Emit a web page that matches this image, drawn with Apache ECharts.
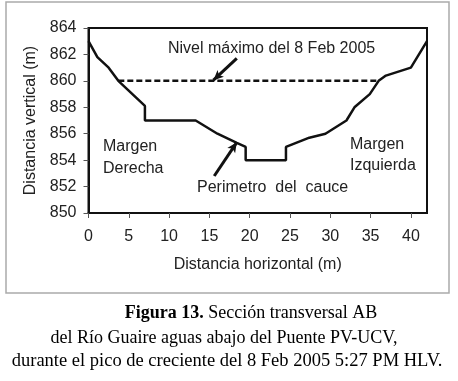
<!DOCTYPE html>
<html>
<head>
<meta charset="utf-8">
<script src="https://cdn.jsdelivr.net/npm/echarts@6/dist/echarts.min.js"></script>
<style>
  html, body { margin: 0; padding: 0; background: #fff; }
  #chart { width: 458px; height: 381px; }
</style>
</head>
<body>
<div id="chart"></div>
<script>
// perfil del cauce (distancia horizontal, cota)
const profileX = [0, 1.1, 2.5, 3.7, 7, 7, 13.3, 16, 18.4, 19.5, 19.5, 24.5, 24.5, 27.4, 29.4, 32, 33, 34.9, 36, 36.9, 40, 42];
const profileY = [863, 861.8, 861, 860, 858.1, 857, 857, 856, 855.3, 855, 854, 854, 855, 855.7, 856, 857, 858, 859, 860, 860.4, 861, 863];
// nivel maximo
const levelX = [3.7, 36];
const levelY = [860, 860];
const xTicks = [0, 5, 10, 15, 20, 25, 30, 35, 40];
// flechas de anotacion [inicio, punta]
const arrowLevel = [[18.4, 861.7], [15.5, 860.05]];
const arrowCauce = [[15.6, 852.8], [18.4, 855.35]];

const FONT = "'Liberation Sans', Arial, sans-serif";
const SERIF = "'Liberation Serif', 'Times New Roman', serif";
const TXT = '#222';

const chart = echarts.init(document.getElementById('chart'));

const option = {
  backgroundColor: '#fff',
  animation: false,
  grid: {
    left: 88.5, right: 31, top: 28, bottom: 168,
    show: true, borderColor: '#111', borderWidth: 2
  },
  xAxis: {
    type: 'value', min: 0, max: 42, interval: 5,
    name: 'Distancia horizontal (m)', nameLocation: 'middle', nameGap: 44,
    nameTextStyle: { fontFamily: FONT, fontSize: 16, color: TXT },
    axisLine: { lineStyle: { color: '#111', width: 2 } },
    axisTick: { show: true, length: 5, customValues: xTicks, lineStyle: { color: '#555' } },
    axisLabel: { customValues: xTicks, fontFamily: FONT, fontSize: 16, color: TXT, margin: 16 },
    splitLine: { show: false }
  },
  yAxis: {
    type: 'value', min: 850, max: 864, interval: 2,
    name: 'Distancia vertical (m)', nameLocation: 'middle', nameGap: 48, nameRotate: 90,
    nameTextStyle: { fontFamily: FONT, fontSize: 16, color: TXT },
    axisLine: { show: true, lineStyle: { color: '#111', width: 2 } },
    axisTick: { show: true, length: 5, lineStyle: { color: '#555' } },
    axisLabel: { fontFamily: FONT, fontSize: 16, color: TXT, margin: 12 },
    splitLine: { show: false }
  },
  series: [
    {
      name: 'Perfil',
      type: 'line',
      data: profileX.map((x, i) => [x, profileY[i]]),
      symbol: 'none',
      lineStyle: { color: '#111', width: 2.5 },
      markLine: {
        silent: true,
        symbol: ['none', 'arrow'],
        symbolSize: [7, 10],
        lineStyle: { color: '#111', width: 3, type: 'solid' },
        label: { show: false },
        data: [
          [{ coord: arrowLevel[0] }, { coord: arrowLevel[1] }],
          [{ coord: arrowCauce[0] }, { coord: arrowCauce[1] }]
        ]
      }
    },
    {
      name: 'Nivel',
      type: 'line',
      data: levelX.map((x, i) => [x, levelY[i]]),
      symbol: 'none',
      lineStyle: { color: '#111', width: 2.5, type: [6, 3] }
    }
  ],
  graphic: [
    { type: 'rect', shape: { x: 6, y: 2, width: 443, height: 291 }, style: { fill: 'none', stroke: '#aaa', lineWidth: 1.5 }, z: -1 },
    { type: 'text', x: 168, y: 49, style: { text: 'Nivel máximo del 8 Feb 2005', font: '16px ' + FONT, fill: TXT, verticalAlign: 'middle' } },
    { type: 'text', x: 103, y: 157.5, style: { text: 'Margen\nDerecha', font: '16px ' + FONT, fill: TXT, lineHeight: 21.5, verticalAlign: 'middle' } },
    { type: 'text', x: 350, y: 155.5, style: { text: 'Margen\nIzquierda', font: '16px ' + FONT, fill: TXT, lineHeight: 21, verticalAlign: 'middle' } },
    { type: 'text', x: 197, y: 188, style: { text: 'Perimetro  del  cauce', font: '16px ' + FONT, fill: TXT, verticalAlign: 'middle' } },
    { type: 'text', x: 251, y: 313, style: { text: '{b|Figura 13.} Sección transversal AB', rich: { b: { font: 'bold 18px ' + SERIF, fill: '#000' } }, font: '18px ' + SERIF, fill: '#000', align: 'center', verticalAlign: 'middle' } },
    { type: 'text', x: 224, y: 338, style: { text: 'del Río Guaire aguas abajo del Puente PV-UCV,', font: '18px ' + SERIF, fill: '#000', align: 'center', verticalAlign: 'middle' } },
    { type: 'text', x: 227, y: 361.5, style: { text: 'durante el pico de creciente del 8 Feb 2005 5:27 PM HLV.', font: '18.5px ' + SERIF, fill: '#000', align: 'center', verticalAlign: 'middle' } }
  ]
};

chart.setOption(option);
</script>
</body>
</html>
